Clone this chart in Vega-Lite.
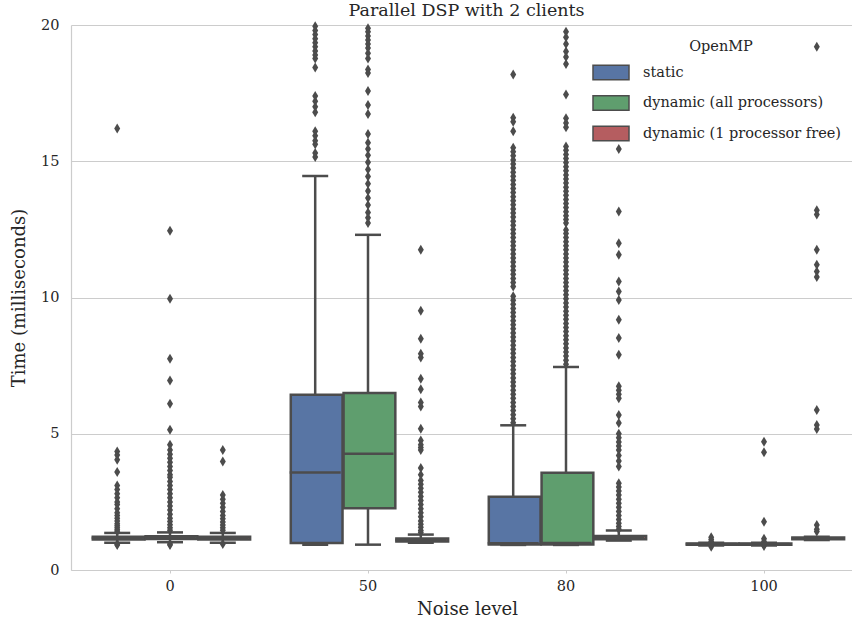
{
  "$schema": "https://vega.github.io/schema/vega-lite/v6.json",
  "autosize": {"type": "none"},
  "width": 781,
  "height": 545,
  "padding": {"left": 71, "top": 25, "right": 0, "bottom": 57},
  "title": {"text": "Parallel DSP with 2 clients", "fontSize": 17.5, "fontWeight": "normal", "color": "#262626", "offset": 7, "anchor": "middle", "dx": 5, "dy": 9},
  "config": {
    "font": "DejaVu Serif",
    "view": {"stroke": null},
    "axis": {"labelColor": "#262626", "titleColor": "#262626", "titleFontWeight": "normal"},
    "legend": {
      "orient": "none", "legendX": 530, "legendY": 15,
      "titleAnchor": "middle", "titleFontSize": 14.5, "titleFontWeight": "normal", "titleColor": "#262626", "titlePadding": 8,
      "labelFontSize": 14.5, "labelColor": "#262626", "labelOffset": 22, "rowPadding": 8.5, "labelLimit": 400,
      "symbolType": "M-2,-0.8H2V0.8H-2Z", "symbolSize": 324, "symbolStrokeColor": "#4c4c4c", "symbolStrokeWidth": 1.5, "symbolOpacity": 1
    }
  },
  "datasets": {
    "boxes": [
      {"noise": "0", "openmp": "static", "lo": 1.0, "q1": 1.12, "median": 1.17, "q3": 1.22, "hi": 1.36},
      {"noise": "0", "openmp": "dynamic (all processors)", "lo": 1.02, "q1": 1.14, "median": 1.19, "q3": 1.24, "hi": 1.38},
      {"noise": "0", "openmp": "dynamic (1 processor free)", "lo": 1.0, "q1": 1.12, "median": 1.17, "q3": 1.22, "hi": 1.36},
      {"noise": "50", "openmp": "static", "lo": 0.93, "q1": 0.99, "median": 3.58, "q3": 6.43, "hi": 14.46},
      {"noise": "50", "openmp": "dynamic (all processors)", "lo": 0.93, "q1": 2.27, "median": 4.27, "q3": 6.5, "hi": 12.3},
      {"noise": "50", "openmp": "dynamic (1 processor free)", "lo": 1.0, "q1": 1.05, "median": 1.1, "q3": 1.16, "hi": 1.3},
      {"noise": "80", "openmp": "static", "lo": 0.92, "q1": 0.94, "median": 0.98, "q3": 2.69, "hi": 5.31},
      {"noise": "80", "openmp": "dynamic (all processors)", "lo": 0.92, "q1": 0.94, "median": 0.99, "q3": 3.57, "hi": 7.45},
      {"noise": "80", "openmp": "dynamic (1 processor free)", "lo": 1.08, "q1": 1.13, "median": 1.19, "q3": 1.25, "hi": 1.45},
      {"noise": "100", "openmp": "static", "lo": 0.9, "q1": 0.93, "median": 0.95, "q3": 0.97, "hi": 1.0},
      {"noise": "100", "openmp": "dynamic (all processors)", "lo": 0.9, "q1": 0.93, "median": 0.95, "q3": 0.97, "hi": 1.0},
      {"noise": "100", "openmp": "dynamic (1 processor free)", "lo": 1.1, "q1": 1.13, "median": 1.16, "q3": 1.19, "hi": 1.22}
    ],
    "outliers": [
      {"noise": "0", "openmp": "static", "time": [16.2, 4.35, 4.22, 4.05, 3.6, 3.1, 2.95, 2.8, 2.65, 2.5, 2.4, 2.25, 2.1, 2.0, 1.9, 1.8, 1.7, 1.62, 1.55, 1.48, 1.42, 0.95, 0.92]},
      {"noise": "0", "openmp": "dynamic (all processors)", "time": [12.45, 9.95, 7.75, 6.95, 6.1, 5.15, 4.6, 4.4, 4.25, 4.1, 3.95, 3.8, 3.65, 3.5, 3.4, 3.25, 3.1, 2.95, 2.8, 2.65, 2.5, 2.35, 2.2, 2.05, 1.9, 1.78, 1.66, 1.55, 1.46, 0.95, 0.92]},
      {"noise": "0", "openmp": "dynamic (1 processor free)", "time": [4.4, 3.98, 2.75, 2.6, 2.45, 2.3, 2.15, 2.0, 1.88, 1.76, 1.65, 1.55, 1.46, 0.95]},
      {"noise": "50", "openmp": "static", "time": [19.95, 19.8, 19.65, 19.5, 19.35, 19.2, 19.05, 18.9, 18.77, 18.44, 17.39, 17.2, 17.0, 16.8, 16.1, 15.94, 15.75, 15.62, 15.3, 15.16]},
      {"noise": "50", "openmp": "dynamic (all processors)", "time": [19.88, 19.75, 19.6, 19.45, 19.3, 19.16, 18.96, 18.77, 18.37, 18.24, 17.58, 17.06, 16.73, 16.0, 15.68, 15.45, 15.22, 14.96, 14.7, 14.44, 14.17, 13.91, 13.65, 13.39, 13.12, 12.93, 12.73]},
      {"noise": "50", "openmp": "dynamic (1 processor free)", "time": [11.75, 9.51, 8.49, 7.94, 7.8, 7.02, 6.63, 6.15, 6.0, 5.18, 4.75, 4.6, 4.5, 4.4, 3.74, 3.5, 3.28, 3.15, 3.0, 2.85, 2.7, 2.55, 2.4, 2.25, 2.1, 1.95, 1.8, 1.68, 1.57, 1.45, 1.38]},
      {"noise": "80", "openmp": "static", "time": [18.18, 16.6, 16.45, 16.1, 15.5, 15.35, 15.2, 15.05, 14.9, 14.75, 14.6, 14.45, 14.3, 14.15, 14.0, 13.85, 13.7, 13.55, 13.4, 13.25, 13.1, 12.95, 12.8, 12.65, 12.5, 12.35, 12.2, 12.05, 11.9, 11.75, 11.6, 11.45, 11.3, 11.15, 11.0, 10.85, 10.7, 10.55, 10.4, 10.05, 9.9, 9.75, 9.6, 9.45, 9.3, 9.15, 9.0, 8.85, 8.7, 8.55, 8.4, 8.25, 8.1, 7.95, 7.8, 7.65, 7.5, 7.35, 7.2, 7.05, 6.9, 6.75, 6.6, 6.45, 6.3, 6.15, 6.0, 5.85, 5.7, 5.55, 5.4]},
      {"noise": "80", "openmp": "dynamic (all processors)", "time": [19.75, 19.55, 19.3, 19.03, 18.83, 18.57, 17.45, 16.58, 16.4, 16.25, 15.54, 15.4, 15.25, 15.1, 14.95, 14.8, 14.65, 14.5, 14.35, 14.2, 14.05, 13.9, 13.75, 13.6, 13.45, 13.3, 13.15, 13.0, 12.86, 12.73, 12.48, 12.35, 12.2, 12.05, 11.9, 11.75, 11.6, 11.45, 11.3, 11.15, 11.0, 10.85, 10.7, 10.55, 10.4, 10.25, 10.1, 9.95, 9.8, 9.65, 9.5, 9.35, 9.2, 9.05, 8.9, 8.75, 8.6, 8.45, 8.3, 8.15, 8.0, 7.85, 7.7, 7.55]},
      {"noise": "80", "openmp": "dynamic (1 processor free)", "time": [17.1, 15.45, 13.16, 11.99, 11.57, 10.59, 10.22, 9.91, 9.18, 8.51, 7.9, 6.74, 6.6, 6.45, 6.3, 5.69, 5.39, 5.0, 4.85, 4.7, 4.55, 4.4, 4.2, 4.0, 3.8, 3.18, 3.05, 2.9, 2.75, 2.6, 2.45, 2.3, 2.15, 2.0, 1.85, 1.72, 1.6, 1.5]},
      {"noise": "100", "openmp": "static", "time": [1.2, 1.12, 1.05, 0.85]},
      {"noise": "100", "openmp": "dynamic (all processors)", "time": [4.71, 4.32, 1.77, 1.15, 1.05, 0.88]},
      {"noise": "100", "openmp": "dynamic (1 processor free)", "time": [19.2, 13.2, 13.05, 11.75, 11.2, 10.95, 10.75, 5.87, 5.32, 5.17, 1.65, 1.5, 1.41]}
    ]
  },
  "encoding": {
    "x": {
      "field": "noise", "type": "nominal",
      "scale": {"domain": ["0", "50", "80", "100"], "range": [0, 792], "paddingInner": 0, "paddingOuter": 0},
      "axis": {"title": "Noise level", "labelAngle": 0, "tickSize": 3, "tickColor": "#cccccc", "domainColor": "#cccccc", "domainWidth": 1.2, "labelPadding": 6, "titlePadding": 8, "labelFontSize": 14.5, "titleFontSize": 18, "grid": false}
    },
    "xOffset": {
      "field": "openmp", "type": "nominal",
      "scale": {"domain": ["static", "dynamic (all processors)", "dynamic (1 processor free)"], "paddingInner": 0, "paddingOuter": 0.375}
    }
  },
  "layer": [
    {
      "data": {"name": "boxes"},
      "mark": {"type": "rule", "color": "#4c4c4c", "strokeWidth": 2.5},
      "encoding": {
        "y": {"field": "lo", "type": "quantitative", "scale": {"domain": [0, 20], "nice": false},
          "axis": {"title": "Time (milliseconds)", "values": [0, 5, 10, 15, 20], "grid": true, "gridColor": "#cccccc", "gridWidth": 1.2, "domainColor": "#cccccc", "domainWidth": 1.2, "ticks": false, "labelPadding": 12, "labelFontSize": 14.5, "titleFontSize": 18, "titlePadding": 12}},
        "y2": {"field": "hi"}
      }
    },
    {
      "data": {"name": "boxes"},
      "mark": {"type": "bar", "stroke": "#4c4c4c", "strokeWidth": 2.5, "width": {"band": 0.98}},
      "encoding": {
        "y": {"field": "q1", "type": "quantitative"},
        "y2": {"field": "q3"},
        "color": {"field": "openmp", "type": "nominal", "title": "OpenMP",
          "scale": {"domain": ["static", "dynamic (all processors)", "dynamic (1 processor free)"], "range": ["#5875a4", "#5f9e6e", "#b55d60"]}}
      }
    },
    {
      "data": {"name": "boxes"},
      "mark": {"type": "tick", "color": "#4c4c4c", "size": 51, "thickness": 2.5, "opacity": 1},
      "encoding": {"y": {"field": "median", "type": "quantitative"}}
    },
    {
      "data": {"name": "boxes"},
      "mark": {"type": "tick", "color": "#4c4c4c", "size": 26, "thickness": 2.5, "opacity": 1},
      "encoding": {"y": {"field": "lo", "type": "quantitative"}}
    },
    {
      "data": {"name": "boxes"},
      "mark": {"type": "tick", "color": "#4c4c4c", "size": 26, "thickness": 2.5, "opacity": 1},
      "encoding": {"y": {"field": "hi", "type": "quantitative"}}
    },
    {
      "data": {"name": "outliers"},
      "transform": [{"flatten": ["time"]}],
      "mark": {"type": "point", "shape": "M0,-1L0.6,0L0,1L-0.6,0Z", "filled": true, "color": "#4c4c4c", "opacity": 1, "size": 100},
      "encoding": {"y": {"field": "time", "type": "quantitative"}}
    }
  ]
}
